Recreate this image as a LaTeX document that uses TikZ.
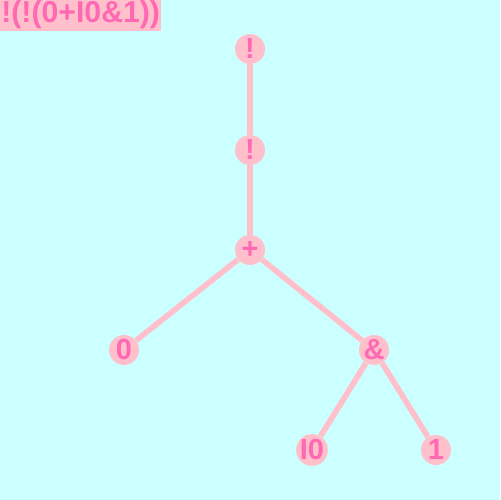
\documentclass[tikz,border=0pt]{standalone}
\usepackage{fontspec}
\setmainfont{Liberation Sans}
\usepackage{tikz}
\definecolor{bgcyan}{RGB}{204,255,255}
\definecolor{nodepink}{RGB}{255,192,203}
\definecolor{textpink}{RGB}{255,105,180}
\tikzset{
	opnode/.style={circle, fill=nodepink, inner sep=0pt, minimum size=0.6cm,
		text=textpink, font=\fontsize{16.5}{17}\selectfont\bfseries},
	branch/.style={nodepink, line width=3.2pt}
}

\begin{document}
\begin{tikzpicture}[x=0.02cm, y=-0.02cm]
			% Background
			\fill[bgcyan] (0, 0) rectangle (500, 500);
			\useasboundingbox (0, 0) rectangle (500, 500);
			% Title
			\fill[nodepink] (0, 0) rectangle (161, 31);
			\node[text=textpink, anchor=west, inner sep=0pt,
				font=\fontsize{17.2}{18}\selectfont\bfseries] (title) at (1, 15)
				{!(!(0+I0\&1))};
			% Tree nodes
			\node[opnode] (notA) at (250, 49) {!};
			\node[opnode] (notB) at (250, 150) {!};
			\node[opnode] (plus) at (250, 250) {+};
			\node[opnode] (zero) at (124, 350) {0};
			\node[opnode] (amp) at (374, 350) {\&};
			\node[opnode] (inzero) at (312, 450) {I0};
			\node[opnode] (one) at (436, 450) {1};
			% Branches
			\draw[branch] (notA) -- (notB);
			\draw[branch] (notB) -- (plus);
			\draw[branch] (plus) -- (zero);
			\draw[branch] (plus) -- (amp);
			\draw[branch] (amp) -- (inzero);
			\draw[branch] (amp) -- (one);
		\end{tikzpicture}
\end{document}
